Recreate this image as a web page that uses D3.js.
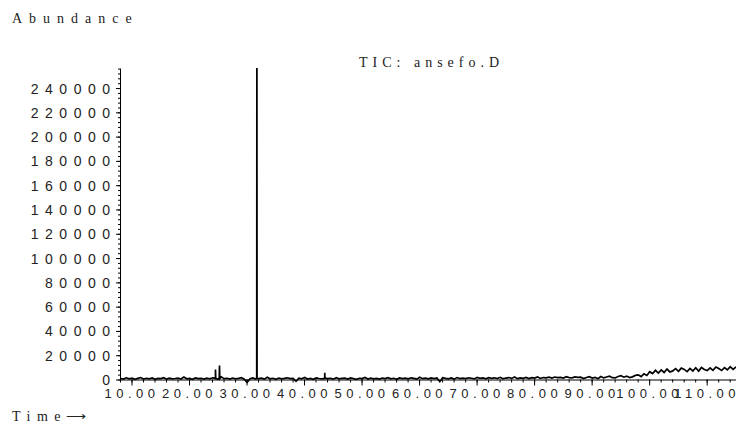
<!DOCTYPE html>
<html>
<head>
<meta charset="utf-8">
<script src="https://cdn.jsdelivr.net/npm/d3@7"></script>
<style>
  body { margin: 0; background: #fff; }
  svg { display: block; font-family: 'Liberation Serif', 'Times New Roman', serif; }
  .axis path, .axis line { stroke: #000; }
  .axis text { fill: #222; }
</style>
</head>
<body>
<svg id="chart" width="736" height="423"></svg>
<script>
const chartTitle = 'TIC: ansefo.D';
const yLabel = 'Abundance';
const xLabel = 'Time';

const yTicks = [0, 20000, 40000, 60000, 80000, 100000, 120000, 140000, 160000, 180000, 200000, 220000, 240000];
const xTicks = [10, 20, 30, 40, 50, 60, 70, 80, 90, 100, 110];

// scan every 0.5 min from 8.1 min
const startTime = 8.1;
const sampleStep = 0.5;
const ticValues = [
  800, 300, 1400, 500, 1100, 200, 900, 1600, 400, 1000,
  600, 1300, 100, 900, 700, 1500, 300, 1100, 500, 800,
  1200, 400, 2000, 600, 900, 200, 1300, 700, 1000, 300,
  1100, 600, 1400, 800, 400, 2200, 700, 1000, 300, 1200,
  500, 900, 1500, 200, -2400, 700, 1300, 400, 800, 1100,
  300, 1800, 600, 1000, 200, 1200, 500, 900, 1400, 700,
  1000, -1500, 1100, 600, 1600, 400, 900, 200, 1300, 800,
  500, 1200, 700, 1000, 300, 1500, 600, 900, 1100, 400,
  1300, 700, 200, 1000, 800, 1700, 400, 1100, 600, 900,
  300, 1200, 800, 1500, 500, 1000, 200, 1300, 700, 1100,
  600, 1400, 900, 300, 1800, 700, 1100, 500, 1300, 800,
  1200, -1800, 1500, 900, 600, 1300, 300, 1600, 800, 1100,
  700, 1400, 1000, 500, 1700, 900, 1300, 600, 1500, 1000,
  1400, 800, 1800, 600, 1200, 1600, 900, 2000, 700, 1300,
  1000, 1700, 800, 1500, 1200, 2100, 900, 1600, 1300, 1900,
  1100, 2000, 1500, 1800, 1200, 2300, 1600, 1400, 2200, 1700,
  1900, 800, 1600, 2300, 1200, 1800, 700, 2400, 1300, 2100,
  2700, 1500, 1300, 2500, 3100, 1900, 2800, 1600, 2200, 3400,
  3800, 2400, 4700, 3300, 6400, 4900, 7600, 5300, 7900, 5800,
  8600, 6200, 7100, 8900, 6700, 9400, 8300, 6500, 9100, 7000,
  9700, 6900, 9900, 8200, 7300, 9600, 7500, 10300, 9000, 7400,
  9800, 7900, 10500, 8400, 10400
];

// [time, abundance] of the peaks
const peakPoints = [
  [24.55, 900], [24.6, 8200], [24.65, 700],
  [25.25, 1000], [25.3, 11500], [25.35, 800],
  [31.77, 800], [31.8, 300000], [31.83, 900],
  [43.57, 900], [43.6, 5500], [43.63, 1100]
];

const width = 736;
const height = 423;
const margin = { top: 68, right: 0, bottom: 43.5, left: 120 };

const svg = d3.select('#chart');

const trace = ticValues
  .map((v, i) => [startTime + i * sampleStep, v])
  .concat(peakPoints)
  .sort((a, b) => a[0] - b[0]);

const x = d3.scaleLinear()
  .domain([8, 115.1])
  .range([margin.left, width - margin.right]);

const y = d3.scaleLinear()
  .domain([0, 256500])
  .range([height - margin.bottom, margin.top]);

svg.append('defs').append('clipPath').attr('id', 'plot')
  .append('rect')
  .attr('x', margin.left)
  .attr('y', margin.top)
  .attr('width', width - margin.left)
  .attr('height', height - margin.top);

// minor ticks
svg.append('g').attr('class', 'axis')
  .attr('transform', `translate(${margin.left},0)`)
  .call(d3.axisLeft(y).tickValues(d3.range(0, 256001, 4000)).tickSize(2).tickSizeOuter(0).tickFormat(''))
  .call(g => g.select('.domain').remove());

svg.append('g').attr('class', 'axis')
  .attr('transform', `translate(0,${height - margin.bottom})`)
  .call(d3.axisBottom(x).tickValues(d3.range(8, 115, 2)).tickSize(3).tickSizeOuter(0).tickFormat(''))
  .call(g => g.select('.domain').remove());

// major axes
const yAxis = svg.append('g').attr('class', 'axis')
  .attr('transform', `translate(${margin.left},0)`)
  .call(d3.axisLeft(y).tickValues(yTicks).tickSize(4).tickSizeOuter(0).tickFormat(d3.format('d')));

yAxis.selectAll('text')
  .attr('x', -3.5)
  .attr('dy', '0.36em')
  .style('font-size', '14px')
  .style('letter-spacing', '6.5px');

const xAxis = svg.append('g').attr('class', 'axis')
  .attr('transform', `translate(0,${height - margin.bottom})`)
  .call(d3.axisBottom(x).tickValues(xTicks).tickSize(6).tickSizeOuter(0).tickFormat(d3.format('.2f')));

xAxis.selectAll('text')
  .attr('y', 18.5)
  .attr('dy', 0)
  .attr('dx', 0)
  .style('font-size', '13px')
  .style('letter-spacing', '4.5px');

svg.selectAll('.axis text').attr('font-family', null);

const line = d3.line()
  .x(d => x(d[0]))
  .y(d => y(d[1]));

svg.append('path')
  .datum(trace)
  .attr('clip-path', 'url(#plot)')
  .attr('fill', 'none')
  .attr('stroke', '#000')
  .attr('stroke-width', 1.7)
  .attr('d', line);

svg.append('text')
  .attr('x', 12)
  .attr('y', 22.5)
  .style('font-size', '14px')
  .style('letter-spacing', '7px')
  .attr('fill', '#222')
  .text(yLabel);

svg.append('text')
  .attr('x', 359)
  .attr('y', 67)
  .style('font-size', '14px')
  .style('letter-spacing', '5px')
  .attr('fill', '#222')
  .text(chartTitle);

svg.append('text')
  .attr('x', 12)
  .attr('y', 421)
  .style('font-size', '14px')
  .style('letter-spacing', '6.5px')
  .attr('fill', '#222')
  .text(xLabel);

svg.append('text')
  .attr('x', 66)
  .attr('y', 421)
  .style('font-size', '14px')
  .attr('fill', '#222')
  .text('\u27F6');
</script>
</body>
</html>
